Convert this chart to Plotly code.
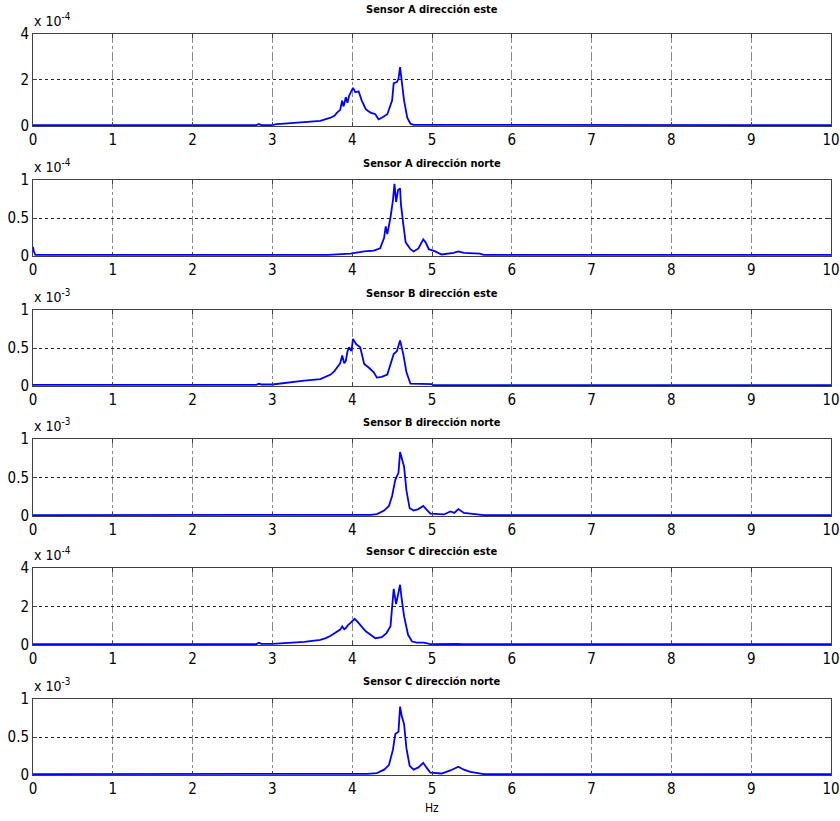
import plotly.graph_objects as go

titles = ["Sensor A dirección este", "Sensor A dirección norte", "Sensor B dirección este",
          "Sensor B dirección norte", "Sensor C dirección este", "Sensor C dirección norte"]
exponents = ["-4", "-4", "-3", "-3", "-4", "-3"]
y_max = [4, 1, 1, 1, 4, 1]
x_ticks = list(range(0, 11))
x_tick_labels = [str(v) for v in x_ticks]

f1 = [0, 2.8, 2.83, 2.86, 3.0, 3.05, 3.15, 3.35, 3.5, 3.6, 3.67, 3.73, 3.78, 3.81, 3.85, 3.875, 3.89, 3.9,
      3.92, 3.94, 3.96, 3.98, 4.01, 4.04, 4.08, 4.12, 4.17, 4.2, 4.23, 4.29, 4.33, 4.37, 4.4, 4.44, 4.5, 4.52,
      4.56, 4.58, 4.6, 4.62, 4.65, 4.69, 4.73, 4.77, 10]
a1 = [0.04, 0.04, 0.09, 0.04, 0.04, 0.08, 0.1, 0.15, 0.18, 0.22, 0.3, 0.36, 0.45, 0.58, 0.7, 1.1, 0.85, 0.95,
      1.25, 1.0, 1.3, 1.46, 1.65, 1.46, 1.5, 1.1, 0.73, 0.65, 0.58, 0.51, 0.29, 0.36, 0.42, 0.51, 1.1, 1.85,
      1.9, 2.04, 2.55, 2.04, 1.1, 0.36, 0.1, 0.05, 0.04]

f2 = [0, 0.01, 0.03, 3.7, 3.98, 4.15, 4.27, 4.35, 4.4, 4.42, 4.44, 4.48, 4.51, 4.53, 4.55, 4.575, 4.6, 4.61,
      4.64, 4.67, 4.73, 4.77, 4.83, 4.89, 4.92, 4.96, 5.04, 5.12, 5.27, 5.33, 5.4, 5.6, 5.65, 10]
a2 = [0.12, 0.06, 0.015, 0.015, 0.03, 0.06, 0.07, 0.1, 0.24, 0.39, 0.29, 0.51, 0.73, 0.95, 0.71, 0.87, 0.89, 0.69,
      0.42, 0.18, 0.09, 0.06, 0.1, 0.22, 0.18, 0.09, 0.06, 0.02, 0.04, 0.06, 0.04, 0.03, 0.015, 0.015]

f3 = [0, 2.8, 2.83, 2.86, 3.0, 3.15, 3.4, 3.6, 3.67, 3.73, 3.78, 3.81, 3.85, 3.875, 3.9, 3.92, 3.94, 3.96,
      3.99, 4.01, 4.05, 4.1, 4.15, 4.21, 4.27, 4.31, 4.37, 4.44, 4.52, 4.56, 4.6, 4.64, 4.68, 4.73, 5.0, 5.01, 10]
a3 = [0.015, 0.015, 0.03, 0.02, 0.02, 0.04, 0.07, 0.09, 0.12, 0.15, 0.2, 0.24, 0.3, 0.4, 0.3, 0.33, 0.45, 0.51,
      0.46, 0.62, 0.55, 0.51, 0.29, 0.24, 0.18, 0.11, 0.12, 0.15, 0.42, 0.46, 0.6, 0.42, 0.18, 0.03, 0.025, 0.012, 0.012]

f4 = [0, 4.23, 4.31, 4.4, 4.46, 4.5, 4.54, 4.56, 4.58, 4.6, 4.62, 4.65, 4.68, 4.72, 4.77, 4.83, 4.89, 4.93,
      4.98, 5.15, 5.23, 5.28, 5.33, 5.4, 5.48, 5.58, 5.65, 10]
a4 = [0.012, 0.015, 0.025, 0.07, 0.13, 0.26, 0.47, 0.51, 0.56, 0.83, 0.75, 0.64, 0.33, 0.1, 0.07, 0.09, 0.13, 0.08,
      0.03, 0.02, 0.06, 0.04, 0.09, 0.04, 0.03, 0.02, 0.012, 0.012]

f5 = [0, 2.8, 2.83, 2.86, 3.0, 3.15, 3.4, 3.6, 3.67, 3.73, 3.78, 3.81, 3.85, 3.875, 3.9, 3.92, 3.95, 3.98, 4.03,
      4.06, 4.1, 4.17, 4.23, 4.29, 4.37, 4.43, 4.48, 4.52, 4.55, 4.57, 4.6, 4.62, 4.65, 4.7, 4.75, 4.81, 4.9,
      4.98, 5.2, 5.23, 5.3, 5.4, 10]
a5 = [0.05, 0.05, 0.12, 0.06, 0.06, 0.09, 0.16, 0.27, 0.36, 0.48, 0.6, 0.71, 0.8, 0.97, 0.82, 0.88, 1.05, 1.15, 1.36,
      1.24, 1.06, 0.71, 0.53, 0.35, 0.41, 0.62, 0.97, 2.92, 2.12, 2.57, 3.13, 2.39, 1.5, 0.53, 0.18, 0.12, 0.12,
      0.05, 0.06, 0.09, 0.06, 0.05, 0.05]

f6 = [0, 4.19, 4.31, 4.4, 4.46, 4.51, 4.54, 4.56, 4.58, 4.6, 4.62, 4.65, 4.68, 4.72, 4.77, 4.83, 4.89, 4.93,
      4.98, 5.12, 5.23, 5.33, 5.4, 5.48, 5.58, 5.65, 10]
a6 = [0.012, 0.015, 0.025, 0.07, 0.13, 0.33, 0.54, 0.55, 0.57, 0.9, 0.78, 0.67, 0.35, 0.12, 0.07, 0.1, 0.16, 0.1,
      0.03, 0.02, 0.06, 0.11, 0.07, 0.04, 0.02, 0.012, 0.012]

freqs = [f1, f2, f3, f4, f5, f6]
amps = [a1, a2, a3, a4, a5, a6]

W, H = 840, 821
x_left, x_right = 33, 831
panel_px = [(33.5, 126), (180, 256), (310, 386), (439, 516), (568, 645), (699, 775)]
title_px = [10, 163, 293, 422, 551, 681]

FONT = "Liberation Sans Narrow, DejaVu Sans Condensed, Arial Narrow, sans-serif"

fig = go.Figure()
annotations = []
layout = {}
for i in range(6):
    n = i + 1
    xa = "x" if n == 1 else f"x{n}"
    ya = "y" if n == 1 else f"y{n}"
    fig.add_trace(go.Scatter(x=freqs[i], y=amps[i], mode="lines", xaxis=xa, yaxis=ya,
                             line=dict(color="#0000ff", width=1.8), showlegend=False, hoverinfo="skip"))
    top, bot = panel_px[i]
    ym = y_max[i]
    yvals = [0, ym / 2, ym]
    ytext = ["0", "2", "4"] if ym == 4 else ["0", "0.5", "1"]
    common = dict(showline=True, linecolor="#404040", linewidth=1, mirror="ticks",
                  ticks="inside", ticklen=4, tickcolor="#404040", zeroline=False, automargin=False,
                  showgrid=True, tickfont=dict(family=FONT, size=15, color="black"))
    layout["xaxis" if n == 1 else f"xaxis{n}"] = dict(
        domain=[x_left / W, x_right / W], range=[0, 10], tickvals=x_ticks, ticktext=x_tick_labels,
        anchor=ya, gridcolor="#8a8a8a", griddash="dashdot", gridwidth=1, **common)
    layout["yaxis" if n == 1 else f"yaxis{n}"] = dict(
        domain=[1 - bot / H, 1 - top / H], range=[0, ym], tickvals=yvals, ticktext=ytext,
        anchor=xa, gridcolor="#222222", griddash="dot", gridwidth=1, **common)
    annotations.append(dict(text=f"<b>{titles[i]}</b>", x=(x_left + x_right) / 2 / W, y=1 - title_px[i] / H,
                            xref="paper", yref="paper", xanchor="center", yanchor="middle", showarrow=False,
                            font=dict(family=FONT, size=11, color="black")))
    annotations.append(dict(text=f"x 10<sup>{exponents[i]}</sup>", x=(x_left - 1) / W, y=1 - (top - 3) / H,
                            xref="paper", yref="paper", xanchor="left", yanchor="bottom", showarrow=False,
                            font=dict(family=FONT, size=14, color="black")))

annotations.append(dict(text="Hz", x=(x_left + x_right) / 2 / W, y=1 - 808 / H, xref="paper", yref="paper",
                        xanchor="center", yanchor="middle", showarrow=False,
                        font=dict(family=FONT, size=12, color="black")))

fig.update_layout(width=W, height=H, margin=dict(l=0, r=0, t=0, b=0, autoexpand=False), paper_bgcolor="white",
                  plot_bgcolor="white", annotations=annotations, **layout)
fig.write_html("out.html")
